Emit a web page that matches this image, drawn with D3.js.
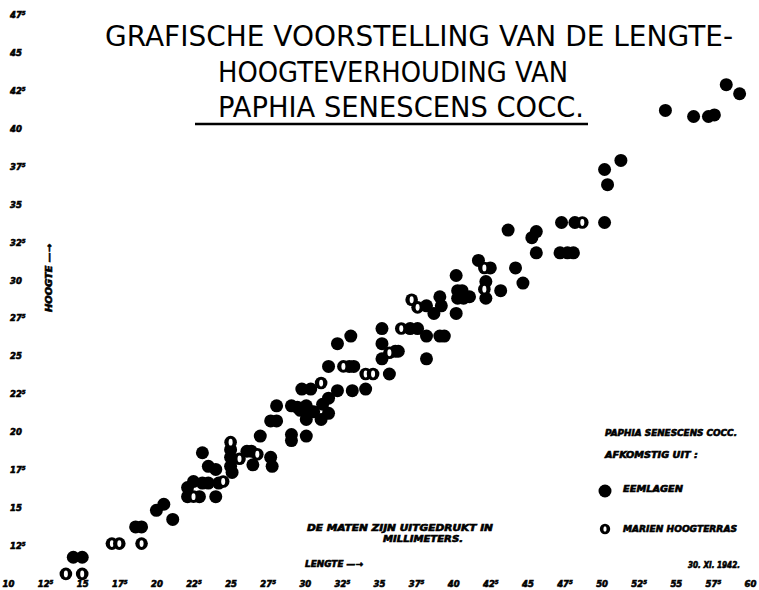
<!DOCTYPE html>
<html>
<head>
<meta charset="utf-8">
<script src="https://cdn.jsdelivr.net/npm/d3@7"></script>
<style>
  body { margin: 0; background: #fff; }
  svg { display: block; }
  .ink { font-family: "DejaVu Sans", sans-serif; font-weight: bold; font-style: italic; fill: #000; stroke: #000; stroke-width: 0.6px; }
  .tick-lab { font-size: 8.5px; }
  .title { font-family: "DejaVu Sans", sans-serif; font-size: 29px; fill: #000; }
</style>
</head>
<body>
<div id="chart"></div>
<script>
// axis ticks (mm)
const xTicks = [10, 12.5, 15, 17.5, 20, 22.5, 25, 27.5, 30, 32.5, 35, 37.5, 40, 42.5, 45, 47.5, 50, 52.5, 55, 57.5, 60];
const yTicks = [12.5, 15, 17.5, 20, 22.5, 25, 27.5, 30, 32.5, 35, 37.5, 40, 42.5, 45, 47.5];

// [lengte, hoogte] in mm
const eemlagen = [
  [14.4, 11.7], [15.0, 11.7], [18.6, 13.7], [19.0, 13.7], [20.0, 14.8], [20.5, 15.2], [21.1, 14.2],
  [23.1, 18.6], [25.0, 18.8], [25.0, 18.3], [25.0, 17.7], [25.1, 17.3], [26.1, 18.7], [26.4, 18.7],
  [26.5, 17.8], [27.7, 18.3], [27.8, 17.7], [23.5, 17.7], [24.0, 17.5], [24.2, 16.6], [22.5, 16.7],
  [22.1, 16.3], [22.1, 15.7], [22.9, 15.7], [23.1, 16.6], [23.5, 16.6], [24.0, 15.7],
  [27.0, 19.7], [27.7, 20.7], [28.1, 20.7], [28.1, 21.7], [29.1, 21.7], [29.5, 21.6], [29.7, 21.4],
  [30.1, 21.7], [30.4, 21.3], [30.6, 21.3], [29.1, 19.8], [29.1, 19.4], [30.1, 19.7], [30.1, 20.8],
  [31.1, 20.8], [31.2, 21.8], [31.6, 21.2], [31.6, 22.2], [29.8, 22.8], [30.4, 22.8], [32.2, 22.7],
  [33.2, 22.7], [34.1, 22.8], [31.6, 24.3], [33.0, 24.3], [33.3, 24.3], [32.2, 25.8], [33.1, 26.3],
  [35.2, 26.8], [37.1, 26.8], [37.6, 26.8], [38.2, 26.3], [39.1, 26.3], [39.4, 26.3], [35.2, 25.8],
  [36.1, 25.3], [36.3, 25.3], [35.2, 24.8], [38.2, 24.8], [35.7, 23.8],
  [38.2, 28.3], [39.1, 28.9], [39.2, 28.3], [38.7, 27.8], [40.2, 30.3], [40.3, 29.3], [40.6, 29.3],
  [40.3, 28.8], [40.7, 28.8], [41.1, 28.9], [40.2, 27.8],
  [41.7, 31.3], [42.5, 30.8], [44.2, 30.8], [44.7, 29.8], [42.2, 29.9], [42.2, 28.8], [43.2, 29.3],
  [43.7, 33.3], [45.3, 32.8], [45.6, 33.2], [45.6, 31.8],
  [47.3, 33.8], [48.2, 33.8], [50.2, 33.8], [47.2, 31.8], [47.7, 31.8], [48.1, 31.8],
  [50.4, 36.3], [50.2, 37.3], [51.3, 37.9],
  [54.3, 41.2], [56.2, 40.8], [57.2, 40.8], [57.6, 40.9], [58.4, 42.9], [59.3, 42.3]
];

const hoogterras = [
  [13.9, 10.6], [15.0, 10.6], [17.0, 12.6], [17.5, 12.6], [19.0, 12.6],
  [25.0, 19.3], [25.6, 18.2], [26.8, 18.5], [24.5, 16.7], [22.5, 15.7],
  [31.1, 23.2], [32.6, 24.3],
  [42.1, 30.8], [42.1, 29.4], [37.2, 28.7], [37.6, 28.2], [36.5, 26.8], [35.7, 25.2],
  [34.1, 23.8], [34.6, 23.8], [48.7, 33.8]
];

const titleLines = ["GRAFISCHE VOORSTELLING VAN DE LENGTE-", "HOOGTEVERHOUDING VAN", "PAPHIA SENESCENS COCC."];

const width = 759, height = 590;

const svg = d3.select("#chart").append("svg")
    .attr("width", width)
    .attr("height", height);

svg.append("rect").attr("width", width).attr("height", height).attr("fill", "#fff");

const x = d3.scaleLinear().domain([10, 60]).range([8, 750]);
const y = d3.scaleLinear().domain([10, 47.5]).range([583, 15]);

// labels like 12⁵ : whole part + small raised 5
function tickLabel(sel) {
    sel.each(function(d) {
        const t = d3.select(this).text(null);
        t.append("tspan").text(Math.floor(d));
        if (d % 1) t.append("tspan").attr("font-size", 5.5).attr("dy", -3).text("5");
    });
}

// X axis (no line, just the lettering)
const xAxis = svg.append("g")
    .attr("transform", "translate(0,584)")
    .call(d3.axisBottom(x).tickValues(xTicks).tickSize(0).tickPadding(0));
xAxis.select(".domain").remove();
xAxis.selectAll("text")
    .attr("class", "ink tick-lab")
    .attr("y", 0)
    .attr("dy", "0.35em")
    .call(tickLabel);

// Y axis
const yAxis = svg.append("g")
    .attr("transform", "translate(10,0)")
    .call(d3.axisRight(y).tickValues(yTicks).tickSize(0).tickPadding(0));
yAxis.select(".domain").remove();
yAxis.selectAll("text")
    .attr("class", "ink tick-lab")
    .attr("dy", "0.35em")
    .call(tickLabel);

// Title
svg.append("g").selectAll("text")
    .data(titleLines)
    .join("text")
    .attr("class", "title")
    .attr("x", (d, i) => [105, 218, 218][i])
    .attr("y", (d, i) => [46, 82, 117][i])
    .attr("textLength", (d, i) => [628, 350, 366][i])
    .attr("lengthAdjust", "spacingAndGlyphs")
    .text(d => d);

svg.append("line")
    .attr("x1", 195).attr("x2", 588)
    .attr("y1", 124).attr("y2", 124)
    .attr("stroke", "#000").attr("stroke-width", 2.5);

// Points: Eemlagen (filled)
svg.append("g").selectAll("circle")
    .data(eemlagen)
    .join("circle")
    .attr("cx", d => x(d[0]))
    .attr("cy", d => y(d[1]))
    .attr("r", 6.5)
    .attr("fill", "#000");

// Points: Marien hoogterras (ring with a light centre)
const open = svg.append("g").selectAll("g")
    .data(hoogterras)
    .join("g")
    .attr("transform", d => `translate(${x(d[0])},${y(d[1])})`);
open.append("circle").attr("r", 6.3).attr("fill", "#000");
open.append("ellipse").attr("rx", 2).attr("ry", 3.4).attr("fill", "#fff");

// Axis names
svg.append("text")
    .attr("class", "ink")
    .attr("transform", "translate(52,312) rotate(-90)")
    .attr("font-size", 8.5)
    .attr("textLength", 68)
    .attr("lengthAdjust", "spacingAndGlyphs")
    .text("HOOGTE —→");

svg.append("text")
    .attr("class", "ink")
    .attr("x", 305).attr("y", 567)
    .attr("font-size", 8.5)
    .attr("textLength", 58)
    .attr("lengthAdjust", "spacingAndGlyphs")
    .text("LENGTE —→");

// Note
svg.append("text")
    .attr("class", "ink")
    .attr("x", 307).attr("y", 531)
    .attr("font-size", 8.5)
    .attr("textLength", 186)
    .attr("lengthAdjust", "spacingAndGlyphs")
    .text("DE MATEN ZIJN UITGEDRUKT  IN");
svg.append("text")
    .attr("class", "ink")
    .attr("x", 383).attr("y", 542)
    .attr("font-size", 8.5)
    .attr("textLength", 80)
    .attr("lengthAdjust", "spacingAndGlyphs")
    .text("MILLIMETERS.");

svg.append("text")
    .attr("class", "ink")
    .attr("x", 688).attr("y", 568)
    .attr("font-size", 8)
    .attr("textLength", 52)
    .attr("lengthAdjust", "spacingAndGlyphs")
    .text("30. XI. 1942.");

// Legend
const legend = svg.append("g").attr("transform", "translate(605,0)");
legend.append("text")
    .attr("class", "ink").attr("x", 0).attr("y", 436)
    .attr("font-size", 8.5).attr("textLength", 132).attr("lengthAdjust", "spacingAndGlyphs")
    .text("PAPHIA SENESCENS COCC.");
legend.append("text")
    .attr("class", "ink").attr("x", 0).attr("y", 458)
    .attr("font-size", 8.5).attr("textLength", 93).attr("lengthAdjust", "spacingAndGlyphs")
    .text("AFKOMSTIG UIT :");

legend.append("circle").attr("cx", 0).attr("cy", 491).attr("r", 6.5).attr("fill", "#000");
legend.append("text")
    .attr("class", "ink").attr("x", 18).attr("y", 492)
    .attr("font-size", 8.5).attr("textLength", 60).attr("lengthAdjust", "spacingAndGlyphs")
    .text("EEMLAGEN");

legend.append("circle").attr("cx", 0).attr("cy", 529).attr("r", 5.2).attr("fill", "#000");
legend.append("ellipse").attr("cx", 0).attr("cy", 529).attr("rx", 1.6).attr("ry", 2.8).attr("fill", "#fff");
legend.append("text")
    .attr("class", "ink").attr("x", 18).attr("y", 532)
    .attr("font-size", 8.5).attr("textLength", 114).attr("lengthAdjust", "spacingAndGlyphs")
    .text("MARIEN HOOGTERRAS");
</script>
</body>
</html>
